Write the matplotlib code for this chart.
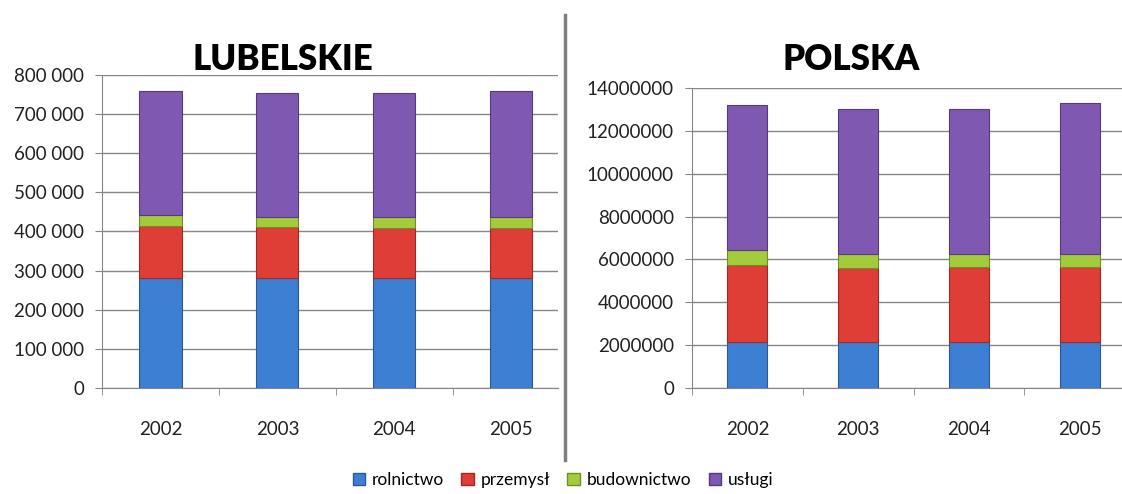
import matplotlib.pyplot as plt
from matplotlib.ticker import FuncFormatter
import matplotlib.patches as mpatches

# dane
lata = ['2002', '2003', '2004', '2005']
kategorie = ['rolnictwo', 'przemysł', 'budownictwo', 'usługi']
kolory = ['#3d7fd2', '#de3e36', '#a2cc3c', '#7f58b2']
krawedzie = ['#2a5a9a', '#9e2a24', '#6f8f25', '#553a80']

lub_rolnictwo = [281000, 281000, 280000, 280000]
lub_przemysl = [133000, 131000, 130000, 130000]
lub_budownictwo = [28000, 25000, 26000, 27000]
lub_uslugi = [317000, 318000, 319000, 321000]

pl_rolnictwo = [2130000, 2130000, 2130000, 2130000]
pl_przemysl = [3620000, 3470000, 3520000, 3520000]
pl_budownictwo = [670000, 650000, 600000, 600000]
pl_uslugi = [6800000, 6780000, 6780000, 7050000]

W, H = 1122, 494
fig = plt.figure(figsize=(W / 100, H / 100), dpi=100)
plt.rcParams['font.family'] = ['Lato', 'DejaVu Sans']


def rect(x0, x1, ytop, ybot):
    return [x0 / W, 1 - ybot / H, (x1 - x0) / W, (ybot - ytop) / H]


def rysuj(ax, serie, ymax, krok, fmt, tytul, tx):
    x = range(len(lata))
    dol = [0] * len(lata)
    for s, c, e in zip(serie, kolory, krawedzie):
        ax.bar(x, s, bottom=dol, width=0.36, color=c, edgecolor=e, linewidth=0.8, zorder=3)
        dol = [a + b for a, b in zip(dol, s)]
    ax.set_ylim(0, ymax)
    ax.set_xlim(-0.5, 3.4)
    ax.set_yticks(range(0, ymax + 1, krok))
    ax.yaxis.set_major_formatter(FuncFormatter(fmt))
    ax.set_xticks(list(x))
    ax.set_xticklabels(lata)
    ax.set_xticks([-0.5, 0.5, 1.5, 2.5], minor=True)
    ax.tick_params(axis='x', which='major', length=0, pad=24, labelsize=13.5, colors='#222222')
    ax.tick_params(axis='x', which='minor', length=5, color='#868686')
    ax.tick_params(axis='y', length=5, color='#868686', labelsize=13.5, colors='#222222', pad=8)
    ax.grid(axis='y', color='#868686', linewidth=1, zorder=0)
    for s in ['top', 'right']:
        ax.spines[s].set_visible(False)
    for s in ['left', 'bottom']:
        ax.spines[s].set_color('#868686')
    fig.text(tx / W, 1 - 60 / H, tytul, fontsize=25, fontweight='heavy', ha='center', va='center')


ax1 = fig.add_axes(rect(102, 558, 75, 388))
rysuj(ax1, [lub_rolnictwo, lub_przemysl, lub_budownictwo, lub_uslugi], 800000, 100000,
      lambda v, p: '{:,}'.format(int(v)).replace(',', ' '), 'LUBELSKIE', 283)

ax2 = fig.add_axes(rect(692, 1124, 88, 388))
rysuj(ax2, [pl_rolnictwo, pl_przemysl, pl_budownictwo, pl_uslugi], 14000000, 2000000,
      lambda v, p: str(int(v)), 'POLSKA', 851)

# linia rozdzielająca
fig.add_artist(plt.Line2D([565 / W, 565 / W], [1 - 15 / H, 1 - 460 / H], color='#808080', linewidth=2.5))

uchwyty = [mpatches.Patch(facecolor=c, edgecolor=e, label=k) for c, e, k in zip(kolory, krawedzie, kategorie)]
fig.legend(handles=uchwyty, loc='center', bbox_to_anchor=(563 / W, 1 - 480 / H), ncol=4, frameon=False,
           fontsize=12.5, handlelength=0.7, handleheight=0.7, handletextpad=0.4, columnspacing=1.0)

fig.savefig('out.png', dpi=100)
